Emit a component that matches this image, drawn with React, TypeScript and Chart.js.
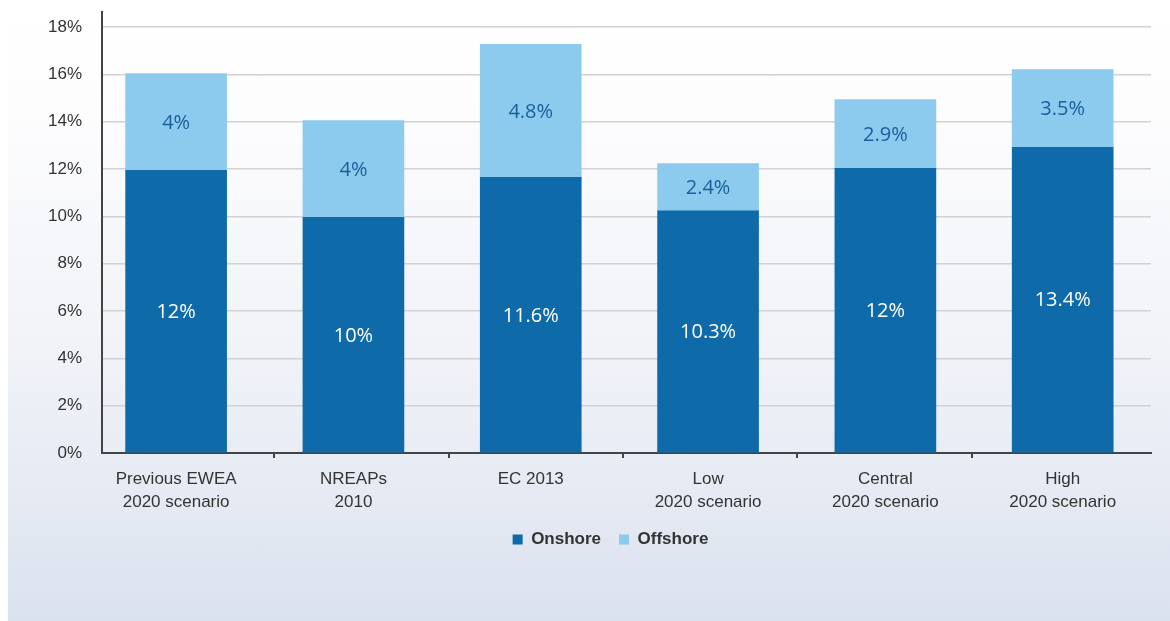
import React, { useEffect, useRef } from "react";
import { Chart, registerables } from "chart.js";

Chart.register(...registerables);

const categories: string[][] = [
  ["Previous EWEA", "2020 scenario"],
  ["NREAPs", "2010"],
  ["EC 2013"],
  ["Low", "2020 scenario"],
  ["Central", "2020 scenario"],
  ["High", "2020 scenario"],
];
const onshoreValues = [11.95, 9.96, 11.65, 10.24, 12.03, 12.92];
const offshoreValues = [4.09, 4.09, 5.62, 1.99, 2.91, 3.29];
const onshoreLabels = ["12%", "10%", "11.6%", "10.3%", "12%", "13.4%"];
const offshoreLabels = ["4%", "4%", "4.8%", "2.4%", "2.9%", "3.5%"];
const yTicks = [0, 2, 4, 6, 8, 10, 12, 14, 16, 18];
const xTickMarks = [0.55, 1.54, 2.52, 3.5, 4.49];
const yAxisTop = 18.64;
const xMin = -0.418;
const xMax = 5.498;

const ONSHORE = "#0e6aa8";
const OFFSHORE = "#8ccbed";
const FONT = "'Liberation Sans', Arial, sans-serif";

const segmentLabels = {
  id: "segmentLabels",
  afterDatasetsDraw(chart: any) {
    const ctx = chart.ctx;
    ctx.save();
    ctx.font = "20px 'Open Sans'";
    ctx.textAlign = "center";
    ctx.textBaseline = "middle";
    chart.data.datasets.forEach((ds: any, di: number) => {
      const meta = chart.getDatasetMeta(di);
      const labels = di === 0 ? onshoreLabels : offshoreLabels;
      ctx.fillStyle = di === 0 ? "#ffffff" : "#1b5e9e";
      meta.data.forEach((el: any, i: number) => {
        const y = (el.y + el.base) / 2;
        ctx.fillText(labels[i], el.x, y + 1);
      });
    });
    ctx.restore();
  },
};

const legendShift = {
  id: "legendShift",
  afterLayout(chart: any) {
    if (chart.legend) {
      chart.legend.left += 31;
      chart.legend.right += 31;
    }
  },
};

export default function App() {
  const ref = useRef<HTMLCanvasElement | null>(null);
  useEffect(() => {
    if (!ref.current) return;
    const xTicks: number[] = [...categories.map((_, i) => i), ...xTickMarks].sort((a, b) => a - b);
    const chart = new Chart(ref.current, {
      type: "bar",
      data: {
        datasets: [
          {
            label: "Onshore",
            data: onshoreValues.map((v, i) => ({ x: i, y: v })),
            backgroundColor: ONSHORE,
            borderWidth: 0,
            barThickness: 101,
          },
          {
            label: "Offshore",
            data: offshoreValues.map((v, i) => ({ x: i, y: v })),
            backgroundColor: OFFSHORE,
            borderWidth: 0,
            barThickness: 101,
          },
        ],
      },
      options: {
        animation: false,
        responsive: true,
        maintainAspectRatio: false,
        layout: { padding: { top: 4, left: 0, right: 19, bottom: 0 } },
        plugins: {
          tooltip: { enabled: false },
          legend: {
            position: "bottom",
            labels: {
              boxWidth: 10,
              boxHeight: 10,
              padding: 18,
              color: "#333333",
              font: { family: FONT, size: 17, weight: "bold" },
            },
          },
        },
        scales: {
          x: {
            type: "linear",
            stacked: true,
            offset: false,
            min: xMin,
            max: xMax,
            afterBuildTicks: (scale: any) => {
              scale.ticks = xTicks.map((v) => ({ value: v }));
            },
            grid: {
              display: true,
              offset: false,
              drawOnChartArea: false,
              tickLength: 5,
              lineWidth: 2,
              color: (c: any) =>
                c.tick && Number.isInteger(c.tick.value) ? "rgba(0,0,0,0)" : "#444444",
            },
            border: { display: true, color: "#444444", width: 2 },
            ticks: {
              padding: 9,
              color: "#333333",
              maxRotation: 0,
              autoSkip: false,
              font: { family: FONT, size: 17, lineHeight: 1.4 },
              callback: (v: any) => (Number.isInteger(v) ? categories[v] : ""),
            },
            afterFit: (scale: any) => {
              scale.height = 60;
              scale.paddingLeft = 0;
              scale.paddingRight = 0;
            },
          },
          y: {
            stacked: true,
            min: 0,
            max: yAxisTop,
            afterBuildTicks: (scale: any) => {
              scale.ticks = yTicks.map((v) => ({ value: v }));
            },
            grid: {
              color: "#d2d2d2",
              lineWidth: 1.5,
              drawTicks: false,
            },
            border: { display: true, color: "#444444", width: 2 },
            ticks: {
              padding: 20,
              color: "#333333",
              font: { family: FONT, size: 17 },
              callback: (v: any) => v + "%",
            },
            afterFit: (scale: any) => {
              scale.width = 94;
              scale.paddingTop = 0;
              scale.paddingBottom = 0;
            },
          },
        },
      },
      plugins: [segmentLabels, legendShift],
    });
    return () => chart.destroy();
  }, []);

  return (
    <div
      style={{
        position: "fixed",
        left: 8,
        top: 8,
        right: 0,
        bottom: 0,
        background: "linear-gradient(to bottom, #ffffff 0%, #fdfdfe 15%, #f1f3f8 55%, #dbe2ef 100%)",
      }}
    >
      <div style={{ position: "relative", width: 1162, height: 550 }}>
        <canvas ref={ref} />
      </div>
    </div>
  );
}
